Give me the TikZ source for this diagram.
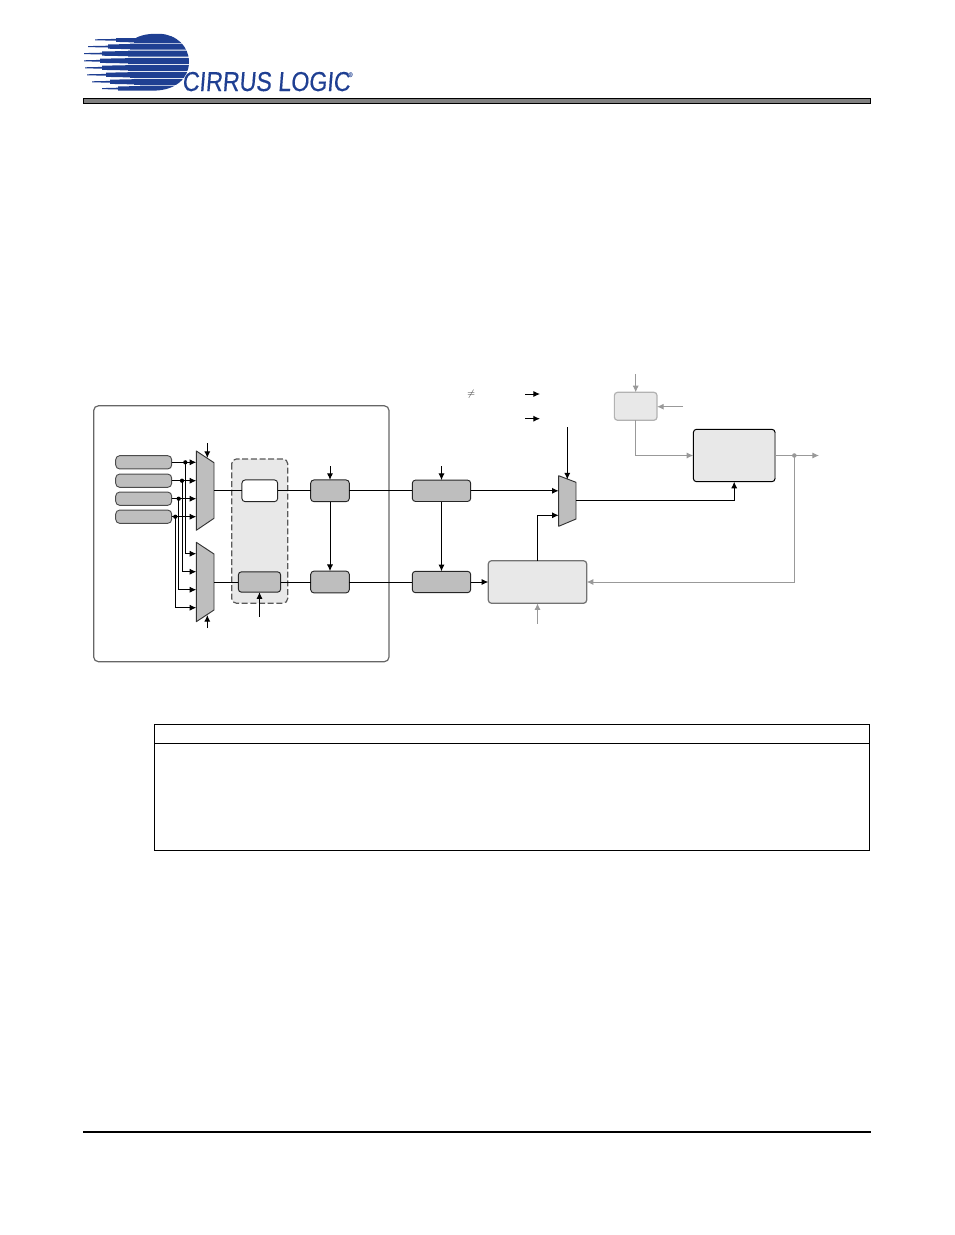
\documentclass[tikz,border=0pt]{standalone}
\usepackage{fontspec}
\usetikzlibrary{arrows.meta}
\newfontfamily\logofont[FakeSlant=0.08,FakeStretch=0.85,FakeBold=0.35]{Liberation Sans}
\definecolor{logoblue}{HTML}{1F3F92}
\definecolor{blkfill}{HTML}{BEBEBE}
\definecolor{lightfill}{HTML}{E8E8E8}
\definecolor{faint}{HTML}{999999}
\tikzset{
  x=0.75pt,y=-0.75pt,
  blk/.style 2 args={rectangle,inner sep=0pt,outer sep=0pt,minimum width=#1*0.75pt,minimum height=#2*0.75pt,rounded corners=2.4pt},
  graybox/.style={fill=blkfill,draw=black!85,line width=0.7pt},
  pill/.style={fill=blkfill,draw=black!70,line width=0.7pt,rounded corners=3pt},
  whitebox/.style={fill=white,draw=black!85,line width=0.7pt},
  lightbox/.style={fill=lightfill,draw=black,line width=0.75pt},
  sigline/.style={line width=0.75pt,draw=black},
  sigarrow/.style={sigline,-{Latex[length=5pt,width=4.6pt]}},
  palearrow/.style={line width=0.75pt,draw=faint,-{Latex[length=5pt,width=4.6pt]}},
  muxshape/.style={fill=blkfill,draw=black!80,line width=0.7pt,line join=round},
  dotmark/.style={circle,fill=black,inner sep=0pt,minimum size=3.2pt},
  paledot/.style={circle,fill=faint,inner sep=0pt,minimum size=3.4pt},
}
\begin{document}
\begin{tikzpicture}
\useasboundingbox (0,0) rectangle (954,1235);
% header logo
\begin{scope}
\clip (80,38) -- (136,38) .. controls (143,34) and (152,33.6) .. (160,33.8)
  .. controls (176,34.5) and (189,46) .. (189,62) .. controls (189,78) and (176,90) .. (155,90.6) -- (80,90.6) -- cycle;
\fill[logoblue] (135,33) rectangle (190,38.4);
\foreach \yc/\xs/\xt/\xu in {39.8/95/116/134,46.6/88/108/130,53.6/84/102/128,60.8/84/100/128,67.8/85/102/128,74.8/87/106/130,81.8/92/110/134,88.6/102/118/140}{
  \fill[logoblue] (\xs,\yc-0.5) -- (\xt,\yc-0.9) -- (\xt,\yc-2.1) -- (\xu,\yc-2.6) -- (\xu,\yc-3) -- (192,\yc-3) -- (192,\yc+3) -- (\xu,\yc+3) -- (\xu,\yc+2.6) -- (\xt,\yc+2.1) -- (\xt,\yc+0.9) -- (\xs,\yc+0.5) -- cycle;
}
\end{scope}
\node[anchor=base west,inner sep=0pt,text=logoblue,font=\logofont\fontsize{20.5}{20}\selectfont] (logotext) at (182,91) {CIRRUS LOGIC};
\node[anchor=base west,inner sep=0pt,text=logoblue!70,font=\logofont\fontsize{5}{5}\selectfont] (logoreg) at (348,77) {®};
\draw[fill=black!50,draw=black,line width=0.9pt] (83.5,98.8) rectangle (870.5,103.6);
% footer rule
\draw[black,line width=1.5pt] (83,1132) -- (871,1132);
% outer panel
\draw[draw=black!60,line width=0.9pt,rounded corners=3.5pt] (93.7,405.8) rectangle (389,661.7);
% dashed panel
\draw[fill=lightfill,draw=black!65,line width=0.9pt,dash pattern=on 4.5pt off 2pt,rounded corners=3.5pt] (231.7,459) rectangle (287.7,603.2);
% input pills
\node[blk={56}{13.3},pill] (p1) at (143.7,462.3) {};
\node[blk={56}{13.3},pill] (p2) at (143.7,480.7) {};
\node[blk={56}{13.3},pill] (p3) at (143.7,498.7) {};
\node[blk={56}{13.3},pill] (p4) at (143.7,516.7) {};
% muxes
\draw[muxshape] (196.3,451) -- (214,462.7) -- (214,518.3) -- (196.3,530.3) -- cycle;
\draw[muxshape] (196.3,542.3) -- (214,554) -- (214,610) -- (196.3,621.7) -- cycle;
\draw[muxshape] (558.7,475.7) -- (576,482.3) -- (576,519) -- (558.7,526.3) -- cycle;
\coordinate (m1a) at (196.3,462.3);
\coordinate (m1b) at (196.3,480.7);
\coordinate (m1c) at (196.3,498.7);
\coordinate (m1d) at (196.3,516.7);
\coordinate (m2a) at (196.3,553.7);
\coordinate (m2b) at (196.3,571.7);
\coordinate (m2c) at (196.3,589.7);
\coordinate (m2d) at (196.3,607.7);
\coordinate (m1out) at (214,490.8);
\coordinate (m2out) at (214,582);
\coordinate (m1sel) at (207.3,458);
\coordinate (m1selsrc) at (207.3,443);
\coordinate (m2sel) at (207.3,615);
\coordinate (m2selsrc) at (207.3,628);
\coordinate (m3a) at (558.7,490.8);
\coordinate (m3b) at (558.7,515.3);
\coordinate (m3out) at (576,500.3);
\coordinate (m3sel) at (567.3,479.5);
\coordinate (m3selsrc) at (567.3,427);
% blocks
\node[blk={35.7}{21.7},whitebox] (wb) at (259.8,490.8) {};
\node[blk={42.4}{20.4},graybox] (gb) at (259.5,582) {};
\node[blk={38.6}{21.7},graybox] (a1) at (330,490.8) {};
\node[blk={38.6}{21.7},graybox] (a2) at (330,582) {};
\node[blk={58.4}{21.4},graybox] (c1) at (441.5,490.8) {};
\node[blk={58.4}{21.4},graybox] (c2) at (441.5,582) {};
\node[blk={98.4}{42.6},fill=lightfill,draw=black!55,line width=0.9pt] (e) at (537.5,582) {};
\node[blk={81.7}{52.4},lightbox] (f) at (734.2,455.5) {};
\draw[draw=faint,line width=0.8pt] ([yshift=-2.5pt]f.north east) -- ([yshift=2.5pt]f.south east);
\node[blk={42.7}{28},fill=lightfill,draw=black!30,line width=0.9pt] (g) at (635.7,406.3) {};
% black connectors
\draw[sigarrow] (p1.east) -- (m1a);
\draw[sigarrow] (p2.east) -- (m1b);
\draw[sigarrow] (p3.east) -- (m1c);
\draw[sigarrow] (p4.east) -- (m1d);
\node[dotmark] (d1) at (185.3,462.3) {};
\node[dotmark] (d2) at (182,480.7) {};
\node[dotmark] (d3) at (178.7,498.7) {};
\node[dotmark] (d4) at (175.3,516.7) {};
\draw[sigarrow] (d1.center) |- (m2a);
\draw[sigarrow] (d2.center) |- (m2b);
\draw[sigarrow] (d3.center) |- (m2c);
\draw[sigarrow] (d4.center) |- (m2d);
\draw[sigarrow] (m1selsrc) -- (m1sel);
\draw[sigarrow] (m2selsrc) -- (m2sel);
\draw[sigline] (m1out) -- (wb.west);
\draw[sigline] (wb.east) -- (a1.west);
\draw[sigline] (m2out) -- (gb.west);
\draw[sigline] (gb.east) -- (a2.west);
\coordinate (gbsrc) at (259.5,616.7);
\draw[sigarrow] (gbsrc) -- (gb.south);
\coordinate (a1src) at (330,466.3);
\draw[sigarrow] (a1src) -- (a1.north);
\coordinate (c1src) at (441.5,466.3);
\draw[sigarrow] (c1src) -- (c1.north);
\draw[sigarrow] (a1.south) -- (a2.north);
\draw[sigarrow] (c1.south) -- (c2.north);
\draw[sigline] (a1.east) -- (c1.west);
\draw[sigline] (a2.east) -- (c2.west);
\draw[sigarrow] (c1.east) -- (m3a);
\draw[sigarrow] (c2.east) -- (e.west);
\draw[sigarrow] (e.north) |- (m3b);
\draw[sigarrow] (m3selsrc) -- (m3sel);
\draw[sigarrow] (m3out) -| (f.south);
% free legend arrows and sign
\coordinate (k1a) at (525,394);
\coordinate (k1b) at (540,394);
\coordinate (k2a) at (525,418.7);
\coordinate (k2b) at (540,418.7);
\draw[sigarrow] (k1a) -- (k1b);
\draw[sigarrow] (k2a) -- (k2b);
\node[inner sep=0pt,text=black!75,font=\fontsize{7.5}{8}\selectfont] (ne) at (471.3,394) {$\neq$};
% pale connectors
\coordinate (gtop) at (635.7,374.3);
\coordinate (gright) at (683,406.7);
\coordinate (esrc) at (537.5,623.5);
\coordinate (fout) at (819,455.5);
\draw[palearrow] (gtop) -- (g.north);
\draw[palearrow] (gright) -- (gright -| g.east);
\draw[palearrow] (g.south) |- (f.west);
\draw[palearrow] (esrc) -- (e.south);
\draw[palearrow] (f.east) -- (fout);
\node[paledot] (fd) at (794.3,455.5) {};
\draw[palearrow] (fd.center) |- (e.east);
% table frame
\node[rectangle,draw=black,line width=0.6pt,inner sep=0pt,minimum width=715*0.75pt,minimum height=126*0.75pt] (tbl) at (512,787.5) {};
\coordinate (tdiv) at (512,743.5);
\draw[black,line width=0.75pt] (tdiv -| tbl.west) -- (tdiv -| tbl.east);
\draw[black,line width=0.85pt] (tbl.south west) -- (tbl.south east);
\end{tikzpicture}
\end{document}
